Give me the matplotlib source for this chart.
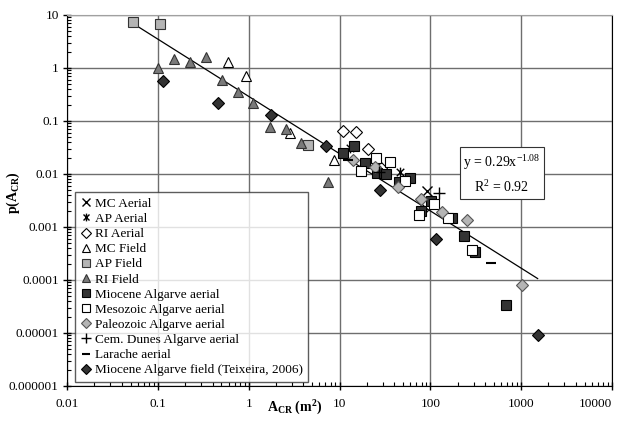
import numpy as np
import matplotlib.pyplot as plt
from matplotlib.path import Path
from matplotlib.ticker import LogLocator, FixedLocator, FixedFormatter, NullFormatter

plt.rcParams['font.family'] = ['Liberation Serif', 'DejaVu Serif']
plt.rcParams['mathtext.fontset'] = 'custom'
plt.rcParams['mathtext.rm'] = 'Liberation Serif'
plt.rcParams['mathtext.it'] = 'Liberation Serif:italic'
plt.rcParams['mathtext.bf'] = 'Liberation Serif:bold'

# area (m2) and probability for each data set
mc_aerial_x = [25.5, 92]
mc_aerial_y = [0.020, 0.0047]
ap_aerial_x = [13.0, 46]
ap_aerial_y = [0.031, 0.0107]
ri_aerial_x = [10.8, 15.0, 20.8, 28.3, 81]
ri_aerial_y = [0.065, 0.063, 0.029, 0.0129, 0.0021]
mc_field_x = [0.585, 0.925, 2.82, 8.6]
mc_field_y = [1.32, 0.706, 0.060, 0.018]
ap_field_x = [0.0538, 0.105, 4.5]
ap_field_y = [7.2, 6.7, 0.0357]
ri_field_x = [0.1, 0.149, 0.227, 0.338, 0.503, 0.755, 1.11, 1.70, 2.55, 3.77, 7.4]
ri_field_y = [1.0, 1.46, 1.32, 1.63, 0.594, 0.357, 0.216, 0.076, 0.070, 0.039, 0.0070]
mio_aerial_x = [14.6, 11.0, 19.3, 25.8, 32.9, 45.5, 59, 101, 78, 174, 234, 309, 675]
mio_aerial_y = [0.034, 0.025, 0.016, 0.0106, 0.010, 0.0070, 0.0082, 0.0031, 0.0020,
                0.0015, 0.00068, 0.00034, 3.3e-5]
meso_aerial_x = [36.4, 17.3, 25.5, 53, 75.5, 110, 157, 290]
meso_aerial_y = [0.0171, 0.0116, 0.020, 0.0074, 0.0017, 0.0027, 0.0015, 0.00036]
paleo_aerial_x = [13.9, 24.7, 43.5, 79, 136, 251, 1030]
paleo_aerial_y = [0.0184, 0.0137, 0.0057, 0.0033, 0.0019, 0.00136, 8.0e-5]
dunes_aerial_x = [126, 27]
dunes_aerial_y = [0.0043, 0.011]
larache_x = [461, 12.5]
larache_y = [0.00021, 0.018]
mio_field_x = [0.1135, 0.454, 1.76, 7.1, 28.2, 115, 1530]
mio_field_y = [0.575, 0.216, 0.13, 0.033, 0.005, 0.00058, 9.0e-6]

# power law fit y = a * x^b
fit_a = 0.29
fit_b = -1.08
fit_r2 = 0.92
fit_x = np.array([0.0538, 1520])

# Excel-style asterisk: an X with a vertical stroke
asterisk = Path([(-1, -1), (1, 1), (-1, 1), (1, -1), (0, -1.3), (0, 1.3)],
                [Path.MOVETO, Path.LINETO, Path.MOVETO, Path.LINETO, Path.MOVETO, Path.LINETO])

fig = plt.figure(figsize=(6.27, 4.26), dpi=100)
ax = fig.add_axes([0.107, 0.094, 0.869, 0.871])

ax.plot(fit_x, fit_a * fit_x ** fit_b, color='black', lw=0.9, zorder=2)

k = dict(ls='none', zorder=3)
ax.plot(mc_aerial_x, mc_aerial_y, marker='x', ms=7, mew=1, color='black', label='MC Aerial', **k)
ax.plot(ap_aerial_x, ap_aerial_y, marker=asterisk, ms=7, mew=1, color='black', label='AP Aerial', **k)
ax.plot(ri_aerial_x, ri_aerial_y, marker='D', ms=5.8, mfc='white', mec='black', mew=0.8, label='RI Aerial', **k)
ax.plot(mc_field_x, mc_field_y, marker='^', ms=7.5, mfc='white', mec='black', mew=0.8, label='MC Field', **k)
ax.plot(ap_field_x, ap_field_y, marker='s', ms=6.5, mfc='#b4b4b4', mec='#333333', mew=0.8, label='AP Field', **k)
ax.plot(ri_field_x, ri_field_y, marker='^', ms=7.5, mfc='#7a7a7a', mec='#333333', mew=0.8, label='RI Field', **k)
ax.plot(mio_aerial_x, mio_aerial_y, marker='s', ms=6.5, mfc='#333333', mec='black', mew=0.8, label='Miocene Algarve aerial', **k)
ax.plot(meso_aerial_x, meso_aerial_y, marker='s', ms=6.5, mfc='white', mec='black', mew=0.8, label='Mesozoic Algarve aerial', **k)
ax.plot(paleo_aerial_x, paleo_aerial_y, marker='D', ms=5.8, mfc='#b4b4b4', mec='#555555', mew=0.8, label='Paleozoic Algarve aerial', **k)
ax.plot(dunes_aerial_x, dunes_aerial_y, marker='+', ms=9, mew=1, color='black', label='Cem. Dunes Algarve aerial', **k)
ax.plot(larache_x, larache_y, marker='_', ms=7, mew=1.5, color='black', label='Larache aerial', **k)
ax.plot(mio_field_x, mio_field_y, marker='D', ms=5.8, mfc='#333333', mec='black', mew=0.8, label='Miocene Algarve field (Teixeira, 2006)', **k)

ax.set_xscale('log')
ax.set_yscale('log')
ax.set_xlim(0.01, 10000)
ax.set_ylim(1e-6, 10)

xt = [0.01, 0.1, 1, 10, 100, 1000, 10000]
yt = [1e-6, 1e-5, 1e-4, 1e-3, 1e-2, 0.1, 1, 10]
ax.xaxis.set_major_locator(FixedLocator(xt))
ax.xaxis.set_major_formatter(FixedFormatter(['0.01', '0.1', '1', '10', '100', '1000', '10000']))
ax.yaxis.set_major_locator(FixedLocator(yt))
ax.yaxis.set_major_formatter(FixedFormatter(['0.000001', '0.00001', '0.0001', '0.001',
                                             '0.01', '0.1', '1', '10']))
ax.xaxis.set_minor_locator(LogLocator(base=10, subs=np.arange(2, 10), numticks=20))
ax.yaxis.set_minor_locator(LogLocator(base=10, subs=np.arange(2, 10), numticks=20))
ax.xaxis.set_minor_formatter(NullFormatter())
ax.yaxis.set_minor_formatter(NullFormatter())

ax.tick_params(which='major', direction='inout', length=6, width=1, labelsize=9.5)
ax.tick_params(which='minor', direction='in', length=3, width=0.8)
ax.tick_params(axis='x', which='major', pad=6)
ax.tick_params(axis='y', which='major', pad=3)
# last x label sits inside the figure edge
ax.get_xticklabels()[-1].set_horizontalalignment('right')

ax.grid(True, which='major', color='#6e6e6e', lw=1)
ax.set_axisbelow(True)
ax.spines['top'].set_color('#a0a0a0')
ax.spines['right'].set_color('black')

ax.set_xlabel(r'$\mathbf{A_{CR}\ (m^{2})}$', fontsize=10)
ax.xaxis.set_label_coords(0.418, -0.035)
ax.set_ylabel(r'$\mathbf{p(A_{CR})}$', fontsize=10)
ax.yaxis.set_label_coords(-0.082, 0.52)

ax.text(0.798, 0.571, 'y = %.2fx$^{%.2f}$\nR$^{2}$ = %.2f' % (fit_a, fit_b, fit_r2),
        transform=ax.transAxes, ha='center', va='center', fontsize=10, linespacing=1.6,
        bbox=dict(boxstyle='square,pad=0.25', fc='white', ec='#333333', lw=0.8), zorder=4)

leg = ax.legend(loc='lower left', bbox_to_anchor=(0.0147, 0.0116), borderaxespad=0,
                fontsize=9.5, frameon=True, fancybox=False, handlelength=0.8,
                handletextpad=0.3, labelspacing=0.22, borderpad=0.4, markerscale=0.8)
leg.get_frame().set_edgecolor('#333333')
leg.get_frame().set_linewidth(1)
leg.set_zorder(5)

fig.savefig('out.png', dpi=100)
